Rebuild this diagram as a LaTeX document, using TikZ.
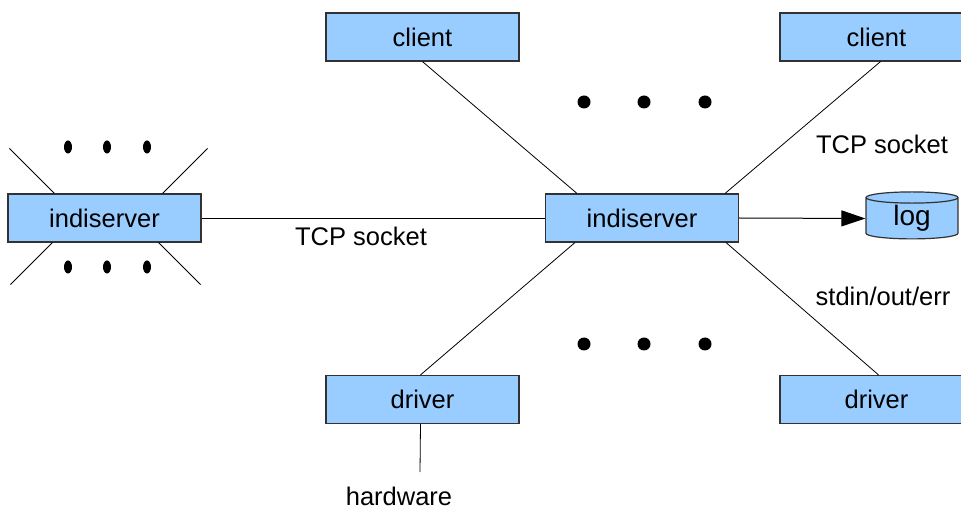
\documentclass[tikz,border=0pt]{standalone}
\usepackage{fontspec}
\setmainfont{Liberation Sans}
\usetikzlibrary{shapes.geometric,arrows.meta}
\definecolor{indiblue}{RGB}{153,204,255}
\definecolor{indigray}{RGB}{50,50,50}
\begin{document}
\begin{tikzpicture}[x=1pt,y=-1pt,
    blk/.style={draw=indigray,fill=indiblue,line width=1.2pt,minimum width=193pt,minimum height=48pt,inner sep=0pt,font=\fontsize{25.5}{30}\selectfont},
    lbl/.style={inner sep=0pt,font=\fontsize{25.5}{30}\selectfont},
    conn/.style={line width=0.8pt}]
        \useasboundingbox (0,0) rectangle (961,510);
        \clip (0,0) rectangle (961,510);
        % servers
        \node[blk] (lsrv) at (104.5,218) {indiserver};
        \node[blk] (srv) at (642,218) {indiserver};
        % clients and drivers
        \node[blk] (cli) at (422.5,37) {client};
        \node[blk] (clr) at (876.5,37) {client};
        \node[blk] (drv) at (422.5,399.5) {driver};
        \node[blk] (drr) at (876.5,399.5) {driver};
        % log
        \node[cylinder,shape border rotate=90,aspect=0.3,draw=indigray,fill=indiblue,line width=1.2pt,
              minimum width=92pt,minimum height=47pt,lbl,font=\fontsize{28}{30}\selectfont] (log) at (912,218.5) {log};
        % links
        \draw[conn] (lsrv.east) -- (srv.west);
        \draw[conn] (cli.south) -- ([xshift=32pt]srv.north west);
        \draw[conn] ([xshift=4pt]clr.south) -- ([xshift=-14pt]srv.north east);
        \draw[conn] ([xshift=-2pt]drv.north) -- ([xshift=30pt]srv.south west);
        \draw[conn] ([xshift=2pt]drr.north) -- ([xshift=-13pt]srv.south east);
        \draw[conn,line width=1pt,-{Triangle[length=24pt,width=16pt]}] (srv.east) -- (log.west);
        \coordinate (hw) at (420,472);
        \draw[conn] ([xshift=-2pt]drv.south) -- (hw);
        % labels
        \node[lbl] (tcpa) at (361,236) {TCP socket};
        \node[lbl] (tcpb) at (882,144) {TCP socket};
        \node[lbl] (pipe) at (883,296) {stdin/out/err};
        \node[lbl] (hwl) at (399,496) {hardware};
        % remote server links
        \draw[conn] ([xshift=47pt]lsrv.north west) -- ++(-45,-45);
        \draw[conn] ([xshift=-39pt]lsrv.north east) -- ++(45,-45);
        \draw[conn] ([xshift=45pt]lsrv.south west) -- ++(-42,42);
        \draw[conn] ([xshift=-43pt]lsrv.south east) -- ++(42,42);
        % dots
        \fill (68,147) ellipse (4 and 6.5);
        \fill (107,147) ellipse (4 and 6.5);
        \fill (147,147) ellipse (4 and 6.5);
        \fill (68,267) ellipse (4 and 6.5);
        \fill (107,267) ellipse (4 and 6.5);
        \fill (147,267) ellipse (4 and 6.5);
        \fill (584,102) circle (6.5);
        \fill (644,102) circle (6.5);
        \fill (705,102) circle (6.5);
        \fill (584,344) circle (6.5);
        \fill (644,344) circle (6.5);
        \fill (705,344) circle (6.5);
    \end{tikzpicture}
\end{document}
